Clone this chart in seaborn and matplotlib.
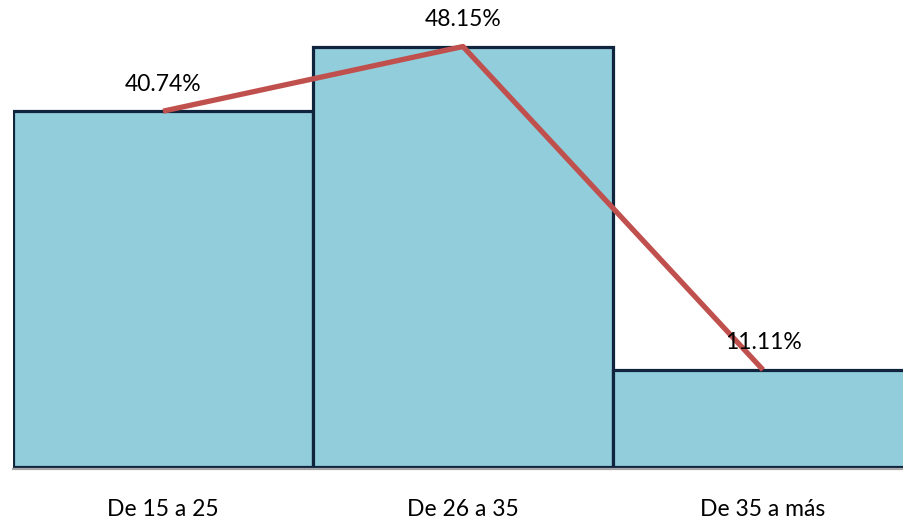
import matplotlib
matplotlib.use("Agg")
import matplotlib.pyplot as plt
import seaborn as sns
import pandas as pd

categories = ["De 15 a 25", "De 26 a 35", "De 35 a más"]
percentages = [40.74, 48.15, 11.11]
value_labels = ["40.74%", "48.15%", "11.11%"]

sns.set_theme(style="white")
plt.rcParams["font.family"] = ["Lato", "DejaVu Sans"]

df = pd.DataFrame({"grupo": categories, "pct": percentages})

fig = plt.figure(figsize=(9.04, 5.21), dpi=100)
W, H = 904, 521
left_px, bottom_px, top_px = 13, 469, 0
ax = fig.add_axes([left_px / W, (H - bottom_px) / H, (W - left_px) / W, (bottom_px - top_px) / H])

sns.barplot(data=df, x="grupo", y="pct", ax=ax, width=1.0,
            color="#92CDDC", saturation=1, edgecolor="#10243E", linewidth=2.3)

ax.plot(range(len(percentages)), percentages, color="#C0504D", linewidth=3.8,
        solid_capstyle="butt", zorder=5)

for i, (v, lab) in enumerate(zip(percentages, value_labels)):
    ax.annotate(lab, xy=(i, v), xytext=(0, 19.5), textcoords="offset points",
                ha="center", va="center", fontsize=16.5, color="black", zorder=6)

ax.set_xlim(-0.5, -0.5 + (W - left_px) / 300)
ax.set_ylim(-0.25, (bottom_px - top_px) / 8.77)
ax.set_xlabel("")
ax.set_ylabel("")
ax.set_yticks([])
ax.tick_params(axis="x", length=0, pad=21.5, labelsize=16.5, labelcolor="black")
for s in ["top", "right", "left"]:
    ax.spines[s].set_visible(False)
ax.spines["bottom"].set_color("#A6A6A6")
ax.spines["bottom"].set_linewidth(1.6)
ax.patch.set_alpha(0)

fig.savefig("out.png", dpi=100)
